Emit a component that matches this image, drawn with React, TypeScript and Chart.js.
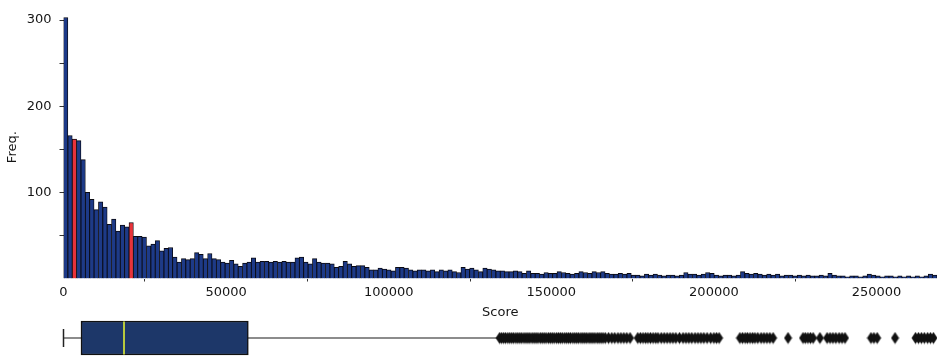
import React, { useEffect, useRef } from 'react';
import { Chart, registerables } from 'chart.js';

Chart.register(...registerables);

// ---------- data ----------
const X_MAX = 268600;
const BIN_WIDTH = 1343; // 200 bins over [0, X_MAX]

const counts = [
  303, 166, 162, 160, 138, 100, 92, 80, 89, 83,
  63, 69, 55, 62, 60, 65, 49, 49, 48, 38,
  40, 44, 32, 35, 36, 25, 19, 23, 22, 23,
  30, 28, 23, 29, 23, 22, 19, 18, 21, 17,
  14, 18, 19, 24, 19, 20, 20, 19, 20, 19,
  20, 19, 19, 24, 25, 19, 17, 23, 19, 18,
  18, 17, 13, 14, 20, 17, 14, 15, 15, 13,
  10, 10, 12, 11, 10, 9, 13, 13, 12, 10,
  9, 10, 10, 9, 10, 8, 10, 9, 10, 8,
  7, 13, 11, 12, 10, 8, 12, 11, 10, 9,
  9, 8, 8, 9, 8, 6, 9, 6, 6, 5,
  7, 6, 6, 8, 7, 6, 5, 6, 8, 7,
  6, 8, 7, 8, 6, 5, 5, 6, 5, 6,
  4, 4, 3, 5, 4, 5, 4, 3, 4, 4,
  3, 4, 7, 5, 5, 4, 5, 7, 6, 4,
  3, 4, 4, 3, 4, 8, 6, 5, 6, 5,
  4, 5, 4, 5, 3, 4, 4, 3, 4, 3,
  4, 3, 3, 4, 3, 6, 4, 3, 3, 2,
  3, 3, 2, 3, 5, 4, 3, 2, 3, 3,
  2, 3, 2, 3, 2, 3, 2, 3, 5, 4,
];
const highlightBins = [2, 15];

const xTicks = [0, 50000, 100000, 150000, 200000, 250000];
const yTickMarks = [50, 100, 150, 200, 250, 300];
const yTickLabels = [100, 200, 300];
const Y_MAX = 305;

// box plot summary
const boxMin = 0;
const q1 = 5380;
const median = 18600;
const q3 = 56830;
const whiskerHigh = 133900;
const outliers = [
  134100, 134700, 135300, 135900, 136600, 137200, 137800, 138400, 139100, 139700,
  140300, 140900, 141600, 142200, 142800, 143400, 144100, 144700, 145300, 145900,
  146600, 147200, 147800, 148400, 149100, 149700, 150300, 150900, 151600, 152200,
  152800, 153400, 154100, 154700, 155300, 155900, 156600, 157200, 157800, 158400,
  159100, 159700, 160300, 160900, 161600, 162200, 162800, 163400, 164100, 164700,
  165300, 165900, 166600,
  167600, 168600, 169500, 170500, 171400, 172300, 173200, 174200, 176600, 177400,
  178200, 179000, 179700, 180500, 181300, 182100, 182800, 183800, 184700, 185600,
  186500, 187400, 188300, 189400, 190500, 191400, 192300, 193200, 194200, 195100,
  196000, 196900, 197900, 199000, 200000, 200800, 201600,
  208000, 208800, 209600, 210300, 211100, 211900, 212600, 213500, 214500, 215400,
  216300, 217200, 218200,
  222800, 227400, 228100, 228900, 229700, 230500, 232600, 234800, 235700, 236600,
  237500, 238500, 239400, 240300,
  248300, 249200, 250200, 255700, 262000, 262900, 263800, 264700, 265700, 266600,
  267500,
];

// ---------- styles ----------
const FONT = { family: 'DejaVu Sans', size: 13 };
const TEXT = '#151515';
const BAR_BLUE = '#1d3a88';
const BAR_RED = '#e8333a';
const AXIS_LEFT = 63.5;

export default function App() {
  const histRef = useRef<HTMLCanvasElement | null>(null);
  const boxRef = useRef<HTMLCanvasElement | null>(null);

  useEffect(() => {
    if (!histRef.current || !boxRef.current) return;

    const hist = new Chart(histRef.current, {
      type: 'bar',
      data: {
        datasets: [
          {
            data: counts.map((c, i) => ({ x: (i + 0.5) * BIN_WIDTH, y: c })),
            backgroundColor: counts.map((_, i) => (highlightBins.includes(i) ? BAR_RED : BAR_BLUE)),
            borderColor: '#0a0a12',
            borderWidth: { top: 1, left: 0.85, right: 0.85, bottom: 0 },
            categoryPercentage: 1,
            barPercentage: 1,
            grouped: false,
          } as any,
        ],
      },
      options: {
        animation: false,
        responsive: false,
        layout: { autoPadding: false, padding: { top: 11.6, right: 0, bottom: 0, left: 0 } },
        plugins: { legend: { display: false }, tooltip: { enabled: false } },
        scales: {
          x: {
            type: 'linear',
            min: 0,
            max: X_MAX,
            offset: false,
            afterBuildTicks: (s: any) => {
              s.ticks = xTicks.map((v) => ({ value: v }));
            },
            afterFit: (s: any) => {
              s.height = 41.5;
            },
            ticks: {
              callback: (v: any) => String(v),
              font: FONT,
              color: TEXT,
              padding: 3,
              maxRotation: 0,
              autoSkip: false,
            },
            grid: { display: true, drawOnChartArea: false, tickLength: 3, tickColor: '#333' },
            border: { display: false },
            title: { display: true, text: 'Score', font: FONT, color: TEXT, padding: { top: 0, bottom: 0 } },
          } as any,
          y: {
            type: 'linear',
            min: 0,
            max: Y_MAX,
            afterBuildTicks: (s: any) => {
              s.ticks = yTickMarks.map((v) => ({ value: v }));
            },
            afterFit: (s: any) => {
              s.width = AXIS_LEFT;
            },
            ticks: {
              callback: (v: any) => (yTickLabels.includes(v) ? String(v) : ''),
              font: FONT,
              color: TEXT,
              padding: 8,
              autoSkip: false,
            },
            grid: { display: true, drawOnChartArea: false, tickLength: 4, tickColor: '#333' },
            border: { display: false },
            title: { display: true, text: 'Freq.', font: FONT, color: TEXT, padding: { top: 5, bottom: 0 } },
          } as any,
        },
      },
    });

    // thin diamond marker (seaborn-style flier)
    const diamond = document.createElement('canvas');
    diamond.width = 9;
    diamond.height = 13;
    const dctx = diamond.getContext('2d');
    if (dctx) {
      dctx.beginPath();
      dctx.moveTo(4.5, 0.5);
      dctx.lineTo(8.5, 6.5);
      dctx.lineTo(4.5, 12.5);
      dctx.lineTo(0.5, 6.5);
      dctx.closePath();
      dctx.fillStyle = '#111';
      dctx.fill();
    }

    const box = new Chart(boxRef.current, {
      type: 'scatter',
      data: {
        datasets: [
          {
            type: 'scatter',
            data: outliers.map((v) => ({ x: v, y: 0 })),
            pointStyle: diamond,
            pointRadius: 5,
            clip: false,
          },
          {
            type: 'scatter',
            data: [{ x: median, y: 0 }],
            pointStyle: 'line',
            pointRotation: 90,
            pointRadius: 16.5,
            pointBorderColor: '#b8c93e',
            pointBorderWidth: 2,
            clip: false,
          },
          {
            type: 'bar',
            indexAxis: 'y',
            data: [{ x: [q1, q3], y: 0 }],
            backgroundColor: '#1d3769',
            borderColor: '#111',
            borderWidth: 1.5,
            borderSkipped: false,
            barThickness: 34,
            clip: false,
          },
          {
            type: 'scatter',
            data: [{ x: boxMin, y: 0 }],
            pointStyle: 'line',
            pointRotation: 90,
            pointRadius: 9,
            pointBorderColor: '#222',
            pointBorderWidth: 1.5,
            clip: false,
          },
          {
            type: 'line',
            data: [
              { x: boxMin, y: 0 },
              { x: whiskerHigh, y: 0 },
            ],
            borderColor: '#666',
            borderWidth: 1.5,
            pointRadius: 0,
            clip: false,
          },
        ] as any,
      },
      options: {
        animation: false,
        responsive: false,
        layout: { autoPadding: false, padding: { top: 0, right: 0, bottom: 0, left: AXIS_LEFT } },
        plugins: { legend: { display: false }, tooltip: { enabled: false } },
        scales: {
          x: { type: 'linear', min: 0, max: X_MAX, display: false },
          y: { type: 'linear', min: -1, max: 1, display: false },
        },
      },
    });

    return () => {
      hist.destroy();
      box.destroy();
    };
  }, []);

  return (
    <div style={{ position: 'fixed', left: 0, top: 0, width: 937, height: 360, background: '#fff' }}>
      <canvas
        ref={histRef}
        width={937}
        height={320}
        style={{ position: 'absolute', left: 0, top: 0, width: 937, height: 320 }}
      />
      <canvas
        ref={boxRef}
        width={937}
        height={42}
        style={{ position: 'absolute', left: 0, top: 317, width: 937, height: 42 }}
      />
    </div>
  );
}
